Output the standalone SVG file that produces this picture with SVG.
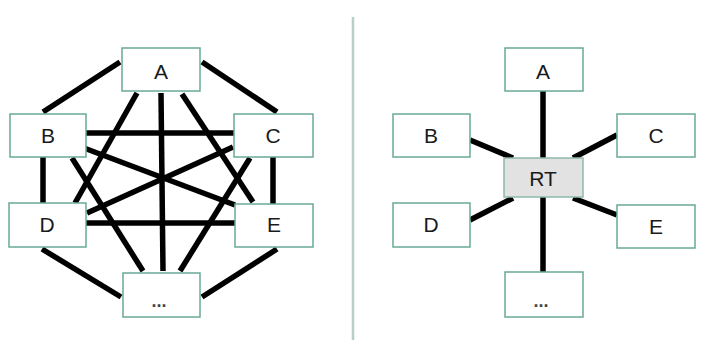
<svg xmlns="http://www.w3.org/2000/svg" width="709" height="351" viewBox="0 0 709 351">
<style>
.box{fill:#ffffff;stroke:#6aa898;stroke-width:1.5}
.rt{fill:#e2e2e2;stroke:#8fb8ac;stroke-width:1.5}
.lbl{font-family:"Liberation Sans",Arial,sans-serif;font-size:21px;fill:#1a1a1a;text-anchor:middle}
.dots{font-family:"Liberation Sans",Arial,sans-serif;font-size:18px;font-weight:bold;fill:#444;text-anchor:middle}
.conn line{stroke:#000;stroke-width:5.5;stroke-linecap:butt}
</style>
<rect width="709" height="351" fill="#ffffff"/>
<g id="divider">
<line x1="353" y1="17" x2="353" y2="340" stroke="#e0e0e0" stroke-width="3"/>
<line x1="353" y1="17" x2="353" y2="340" stroke="#8cc0ae" stroke-width="1"/>
</g>
<g id="connectors-left" class="conn">
<line x1="120" y1="62" x2="43" y2="112"/>
<line x1="202" y1="62" x2="277" y2="112"/>
<line x1="137" y1="93" x2="75" y2="203"/>
<line x1="161" y1="93" x2="163" y2="271"/>
<line x1="182" y1="94" x2="253" y2="202"/>
<line x1="84" y1="133" x2="234" y2="133"/>
<line x1="84" y1="148" x2="235" y2="205"/>
<line x1="43" y1="157" x2="43" y2="203"/>
<line x1="72" y1="158" x2="143" y2="271"/>
<line x1="233" y1="147" x2="87" y2="213"/>
<line x1="273" y1="157" x2="273" y2="204"/>
<line x1="250" y1="158" x2="180" y2="271"/>
<line x1="86" y1="223" x2="235" y2="223"/>
<line x1="42" y1="249" x2="121" y2="297"/>
<line x1="277" y1="249" x2="202" y2="297"/>
</g>
<g id="connectors-right" class="conn">
<line x1="543" y1="91" x2="543" y2="158"/>
<line x1="470" y1="140" x2="513" y2="158"/>
<line x1="617" y1="135" x2="573" y2="158"/>
<line x1="470" y1="220" x2="513" y2="198"/>
<line x1="573" y1="198" x2="617" y2="215"/>
<line x1="543" y1="197" x2="543" y2="272"/>
</g>
<g id="L-A"><rect class="box" x="122" y="48" width="78" height="43"/><text class="lbl" x="161" y="79">A</text></g>
<g id="L-B"><rect class="box" x="10" y="114" width="76" height="43"/><text class="lbl" x="48" y="143">B</text></g>
<g id="L-C"><rect class="box" x="234" y="114" width="79" height="43"/><text class="lbl" x="273" y="143">C</text></g>
<g id="L-D"><rect class="box" x="9" y="203" width="77" height="44"/><text class="lbl" x="47" y="232">D</text></g>
<g id="L-E"><rect class="box" x="235" y="204" width="78" height="43"/><text class="lbl" x="274" y="232">E</text></g>
<g id="L-etc"><rect class="box" x="123" y="273" width="77" height="44"/><text class="dots" x="159" y="307">...</text></g>
<g id="R-A"><rect class="box" x="505" y="48" width="78" height="43"/><text class="lbl" x="543" y="79">A</text></g>
<g id="R-B"><rect class="box" x="393" y="114" width="77" height="43"/><text class="lbl" x="431" y="143">B</text></g>
<g id="R-C"><rect class="box" x="617" y="114" width="78" height="43"/><text class="lbl" x="656" y="143">C</text></g>
<g id="R-D"><rect class="box" x="393" y="203" width="77" height="44"/><text class="lbl" x="431" y="232">D</text></g>
<g id="R-E"><rect class="box" x="617" y="205" width="78" height="43"/><text class="lbl" x="656" y="234">E</text></g>
<g id="R-etc"><rect class="box" x="505" y="272" width="78" height="45"/><text class="dots" x="541" y="307">...</text></g>
<g id="R-RT"><rect class="rt" x="504" y="158" width="79" height="39"/><text class="lbl" x="543" y="186">RT</text></g>
</svg>
